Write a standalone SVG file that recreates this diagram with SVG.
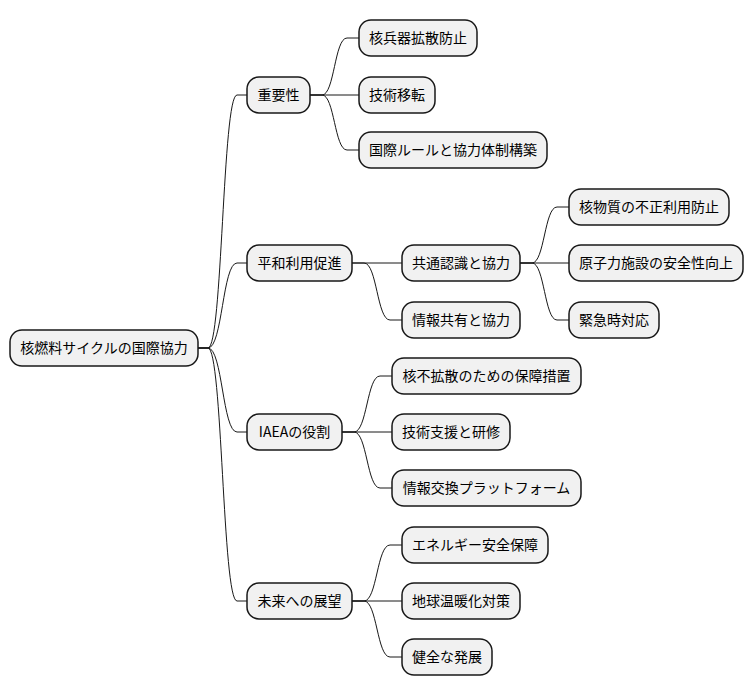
<svg xmlns="http://www.w3.org/2000/svg" width="754" height="696" viewBox="0 0 754 696">
<style>
.n rect{fill:#f1f1f1;stroke:#181818;stroke-width:1.5}
.n text{font-family:"Noto Sans CJK JP","Liberation Sans",sans-serif;font-size:14px;fill:#000;text-anchor:middle}
#edges path{fill:none;stroke:#181818;stroke-width:1}
</style>
<rect width="754" height="696" fill="#fff"/>
<g id="edges">
<path d="M198,348 H208 C222.5,348 222.5,95 237,95 H247"/>
<path d="M198,348 H208 C222.5,348 222.5,263 237,263 H247"/>
<path d="M198,348 H208 C222.5,348 222.5,432 237,432 H247"/>
<path d="M198,348 H208 C222.5,348 222.5,601 237,601 H247"/>
<path d="M310,95 H322 C334.5,95 334.5,38 347,38 H359"/>
<path d="M310,95 H359"/>
<path d="M310,95 H322 C334.5,95 334.5,150 347,150 H359"/>
<path d="M352,263 H402"/>
<path d="M352,263 H364 C377,263 377,320 390,320 H402"/>
<path d="M520,263 H532 C544.5,263 544.5,207 557,207 H569"/>
<path d="M520,263 H569"/>
<path d="M520,263 H532 C544.5,263 544.5,320 557,320 H569"/>
<path d="M342,432 H354 C367,432 367,376 380,376 H392"/>
<path d="M342,432 H392"/>
<path d="M342,432 H354 C367,432 367,488 380,488 H392"/>
<path d="M352,601 H364 C377,601 377,545 390,545 H402"/>
<path d="M352,601 H402"/>
<path d="M352,601 H364 C377,601 377,657 390,657 H402"/>
</g>
<g id="root" class="n"><rect x="10" y="330" width="188" height="36" rx="12"/><text x="104" y="353">核燃料サイクルの国際協力</text></g>
<g id="n1" class="n"><rect x="247" y="77" width="63" height="36" rx="12"/><text x="278.5" y="100">重要性</text></g>
<g id="n1a" class="n"><rect x="359" y="20" width="118" height="36" rx="12"/><text x="418" y="43">核兵器拡散防止</text></g>
<g id="n1b" class="n"><rect x="359" y="77" width="76" height="36" rx="12"/><text x="397" y="100">技術移転</text></g>
<g id="n1c" class="n"><rect x="359" y="132" width="188" height="36" rx="12"/><text x="453" y="155">国際ルールと協力体制構築</text></g>
<g id="n2" class="n"><rect x="247" y="245" width="105" height="36" rx="12"/><text x="299.5" y="268">平和利用促進</text></g>
<g id="n2a" class="n"><rect x="402" y="245" width="118" height="36" rx="12"/><text x="461" y="268">共通認識と協力</text></g>
<g id="n2b" class="n"><rect x="402" y="302" width="118" height="36" rx="12"/><text x="461" y="325">情報共有と協力</text></g>
<g id="n2a1" class="n"><rect x="569" y="189" width="160" height="36" rx="12"/><text x="649" y="212">核物質の不正利用防止</text></g>
<g id="n2a2" class="n"><rect x="569" y="245" width="174" height="36" rx="12"/><text x="656" y="268">原子力施設の安全性向上</text></g>
<g id="n2a3" class="n"><rect x="569" y="302" width="90" height="36" rx="12"/><text x="614" y="325">緊急時対応</text></g>
<g id="n3" class="n"><rect x="247" y="414" width="95" height="36" rx="12"/><text x="294.5" y="437">IAEAの役割</text></g>
<g id="n3a" class="n"><rect x="392" y="358" width="189" height="36" rx="12"/><text x="486.5" y="381">核不拡散のための保障措置</text></g>
<g id="n3b" class="n"><rect x="392" y="414" width="118" height="36" rx="12"/><text x="451" y="437">技術支援と研修</text></g>
<g id="n3c" class="n"><rect x="392" y="470" width="189" height="36" rx="12"/><text x="486.5" y="493">情報交換プラットフォーム</text></g>
<g id="n4" class="n"><rect x="247" y="583" width="105" height="36" rx="12"/><text x="299.5" y="606">未来への展望</text></g>
<g id="n4a" class="n"><rect x="402" y="527" width="146" height="36" rx="12"/><text x="475" y="550">エネルギー安全保障</text></g>
<g id="n4b" class="n"><rect x="402" y="583" width="118" height="36" rx="12"/><text x="461" y="606">地球温暖化対策</text></g>
<g id="n4c" class="n"><rect x="402" y="639" width="90" height="36" rx="12"/><text x="447" y="662">健全な発展</text></g>
</svg>
